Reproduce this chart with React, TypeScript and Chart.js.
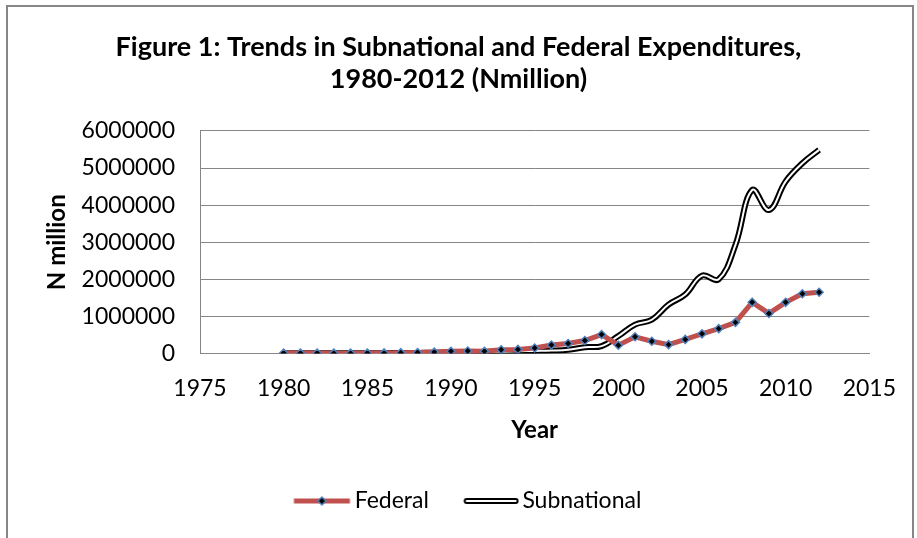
import React, { useEffect, useRef } from "react";
import { Chart, registerables } from "chart.js";

Chart.register(...registerables);

const titleLines = ["Figure 1: Trends in Subnational and Federal Expenditures,", "1980-2012 (Nmillion)"];
const years = [1980, 1981, 1982, 1983, 1984, 1985, 1986, 1987, 1988, 1989, 1990, 1991, 1992, 1993, 1994, 1995, 1996, 1997, 1998, 1999, 2000, 2001, 2002, 2003, 2004, 2005, 2006, 2007, 2008, 2009, 2010, 2011, 2012];
const federal = [15000, 11000, 12000, 10000, 10000, 13000, 16000, 22000, 28000, 41000, 60000, 67000, 60000, 100000, 110000, 150000, 230000, 270000, 350000, 510000, 224000, 450000, 330000, 240000, 380000, 530000, 670000, 840000, 1380000, 1080000, 1380000, 1610000, 1650000];
const subnational = [8000, 8000, 8000, 8000, 8000, 9000, 10000, 12000, 15000, 20000, 25000, 30000, 40000, 50000, 60000, 70000, 80000, 100000, 170000, 200000, 470000, 780000, 910000, 1320000, 1590000, 2100000, 2000000, 2930000, 4410000, 3870000, 4640000, 5130000, 5490000];
const xTicks = [1975, 1980, 1985, 1990, 1995, 2000, 2005, 2010, 2015];
const yTicks = [0, 1000000, 2000000, 3000000, 4000000, 5000000, 6000000];

const FONT = "Lato, 'Open Sans', sans-serif";

function makeFedImg() {
  const c = document.createElement("canvas");
  c.width = 84; c.height = 14;
  const g = c.getContext("2d")!;
  g.strokeStyle = "#C0504D"; g.lineWidth = 5;
  g.beginPath(); g.moveTo(26.5, 7); g.lineTo(82.5, 7); g.stroke();
  g.save(); g.translate(54.5, 7); g.rotate(Math.PI / 4);
  g.fillStyle = "#000"; g.strokeStyle = "#4F81BD"; g.lineWidth = 1.5;
  g.beginPath(); g.rect(-2.8, -2.8, 5.6, 5.6); g.fill(); g.stroke();
  g.restore();
  return c;
}
function makeSubImg() {
  const c = document.createElement("canvas");
  c.width = 84; c.height = 14;
  const g = c.getContext("2d")!;
  g.lineCap = "round";
  g.strokeStyle = "#000"; g.lineWidth = 6;
  g.beginPath(); g.moveTo(31.5, 7); g.lineTo(80.5, 7); g.stroke();
  g.strokeStyle = "#fff"; g.lineWidth = 2;
  g.beginPath(); g.moveTo(31.5, 7); g.lineTo(80.5, 7); g.stroke();
  return c;
}

const framePlugin = {
  id: "frame",
  afterDraw(chart: any) {
    const ctx = chart.ctx;
    ctx.save();
    ctx.strokeStyle = "#868686";
    ctx.lineWidth = 2;
    ctx.strokeRect(7, 6, 906, 540);
    ctx.restore();
  },
};

export default function App() {
  const ref = useRef<HTMLCanvasElement>(null);
  useEffect(() => {
    const fedImg = makeFedImg();
    const subImg = makeSubImg();
    const chart = new Chart(ref.current!, {
      type: "line",
      data: {
        datasets: [
          {
            label: "Federal",
            data: years.map((y, i) => ({ x: y, y: federal[i] })),
            borderColor: "#C0504D",
            borderWidth: 5,
            tension: 0,
            pointStyle: "rectRot",
            pointRadius: 4,
            pointBackgroundColor: "#000",
            pointBorderColor: "#4F81BD",
            pointBorderWidth: 1.5,
          },
          {
            label: "SubWhite",
            data: years.map((y, i) => ({ x: y, y: subnational[i] })),
            borderColor: "#fff",
            borderWidth: 2,
            tension: 0.4,
            pointRadius: 0,
          },
          {
            label: "Subnational",
            data: years.map((y, i) => ({ x: y, y: subnational[i] })),
            borderColor: "#000",
            borderWidth: 6,
            tension: 0.4,
            pointRadius: 0,
          },
        ],
      },
      options: {
        responsive: false,
        animation: false,
        layout: { padding: { left: 0, right: 0, top: 0, bottom: 15.5 } },
        plugins: {
          tooltip: { enabled: false },
          title: {
            display: true,
            text: titleLines,
            color: "#000",
            font: { family: FONT, size: 27, weight: "bold", lineHeight: 1.17 },
            padding: { top: 32, bottom: 35.8 },
          },
          legend: {
            position: "bottom",
            labels: {
              usePointStyle: true,
              pointStyleWidth: 67.5,
              color: "#000",
              font: { family: FONT, size: 23 },
              padding: 14.5,
              generateLabels: () => [
                { text: "Federal", pointStyle: fedImg as any, fillStyle: "rgba(0,0,0,0)", strokeStyle: "rgba(0,0,0,0)", lineWidth: 0, hidden: false, datasetIndex: 0, fontColor: "#000" },
                { text: "Subnational", pointStyle: subImg as any, fillStyle: "rgba(0,0,0,0)", strokeStyle: "rgba(0,0,0,0)", lineWidth: 0, hidden: false, datasetIndex: 2, fontColor: "#000" },
              ],
            },
          },
        },
        scales: {
          x: {
            type: "linear",
            min: xTicks[0],
            max: xTicks[xTicks.length - 1],
            afterBuildTicks: (s: any) => { s.ticks = xTicks.map((v) => ({ value: v })); },
            afterFit: (s: any) => { s.height = 121.5; },
            grid: { display: false, drawTicks: false },
            border: { display: true, color: "#868686", width: 1 },
            ticks: { color: "#000", font: { family: FONT, size: 23 }, padding: 21, maxRotation: 0, callback: (v: any) => String(v) },
            title: { display: true, text: "Year", color: "#000", font: { family: FONT, size: 24, weight: "bold", lineHeight: 1.2 }, padding: { top: 0, bottom: 30 } },
          },
          y: {
            type: "linear",
            min: yTicks[0],
            max: yTicks[yTicks.length - 1],
            afterBuildTicks: (s: any) => { s.ticks = yTicks.map((v) => ({ value: v })); },
            afterFit: (s: any) => { s.width = 200; },
            grid: { color: "#868686", lineWidth: 1, drawTicks: false },
            border: { display: true, color: "#868686", width: 1 },
            ticks: { color: "#000", font: { family: FONT, size: 23 }, padding: 25, callback: (v: any) => String(v) },
            title: { display: true, text: "N million", color: "#000", font: { family: FONT, size: 24, weight: "bold", lineHeight: 1.2 }, padding: { top: 43, bottom: 0 } },
          },
          yR: {
            type: "linear",
            position: "right",
            display: true,
            afterFit: (s: any) => { s.width = 47; },
            grid: { display: false, drawTicks: false },
            border: { display: false },
            ticks: { display: false },
          },
        },
      },
      plugins: [framePlugin],
    });
    return () => chart.destroy();
  }, []);
  return (
    <div style={{ position: "absolute", left: 0, top: 0, width: 917, height: 538, background: "#fff" }}>
      <canvas ref={ref} width={917} height={538} />
    </div>
  );
}
